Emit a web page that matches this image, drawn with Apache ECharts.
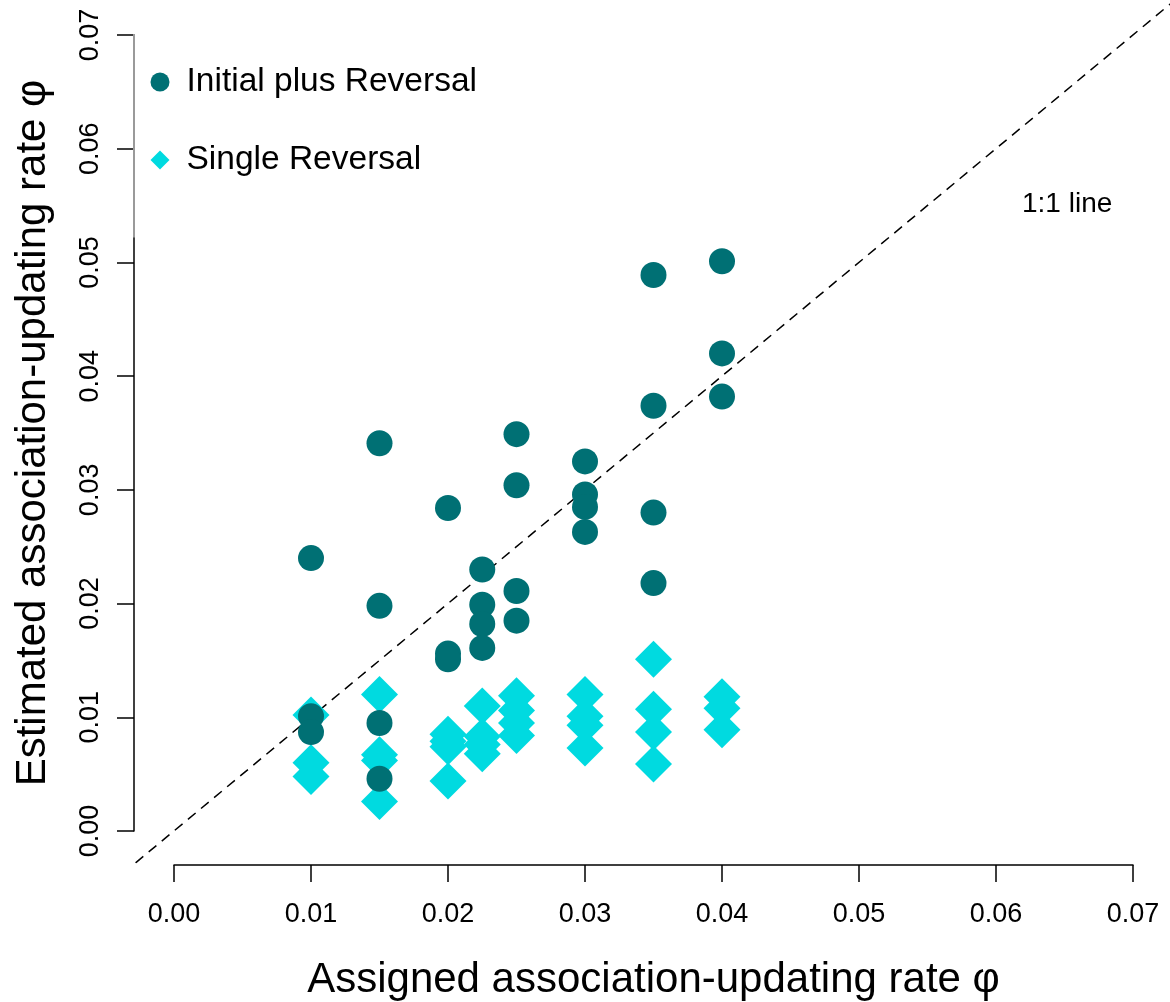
<!DOCTYPE html>
<html>
<head>
<meta charset="utf-8">
<script src="https://cdn.jsdelivr.net/npm/echarts@6/dist/echarts.min.js"></script>
<style>
  html, body { margin: 0; padding: 0; background: #fff; }
  #chart { width: 1170px; height: 1002px; }
</style>
</head>
<body>
<div id="chart"></div>
<script>
// Assigned association-updating rates (x groups)
const assignedRates = [0.01, 0.015, 0.02, 0.0225, 0.025, 0.03, 0.035, 0.04];

// Estimated rates per assigned rate, "Initial plus Reversal" design
const initialPlusReversal = [
  [0.0240, 0.0101, 0.0087],
  [0.0341, 0.0198, 0.0095, 0.0046],
  [0.0284, 0.0156, 0.0151],
  [0.0230, 0.0199, 0.0182, 0.0161],
  [0.0349, 0.0304, 0.0211, 0.0185],
  [0.0325, 0.0296, 0.0285, 0.0263],
  [0.0489, 0.0374, 0.0280, 0.0218],
  [0.0501, 0.0420, 0.0382]
];

// Estimated rates per assigned rate, "Single Reversal" design
const singleReversal = [
  [0.0102, 0.0060, 0.0048],
  [0.0120, 0.0067, 0.0062, 0.0026],
  [0.0085, 0.0079, 0.0074, 0.0044],
  [0.0110, 0.0083, 0.0076, 0.0068],
  [0.0119, 0.0106, 0.0095, 0.0084],
  [0.0120, 0.0101, 0.0093, 0.0073],
  [0.0151, 0.0107, 0.0087, 0.0059],
  [0.0118, 0.0108, 0.0089]
];

// Axis ticks
const tickValues = [0, 0.01, 0.02, 0.03, 0.04, 0.05, 0.06, 0.07];

// Plotting region: the tick range padded by 4% on each side
const pad = 0.04 * (tickValues[tickValues.length - 1] - tickValues[0]);
const regionMin = tickValues[0] - pad;
const regionMax = tickValues[tickValues.length - 1] + pad;

// 1:1 reference line across the whole plotting region
const identityLine = [[regionMin, regionMin], [regionMax, regionMax]];

const TEAL = '#007074';
const CYAN = '#00dae0';
const FONT = '"Liberation Sans", Arial, Helvetica, sans-serif';

function toPairs(groups) {
  const out = [];
  groups.forEach((vals, i) => vals.forEach(v => out.push([assignedRates[i], v])));
  return out;
}

const chart = echarts.init(document.getElementById('chart'), null, { renderer: 'canvas' });

const axisCommon = {
  type: 'value',
  gridIndex: 0,
  min: tickValues[0],
  max: tickValues[tickValues.length - 1],
  interval: 0.01,
  splitLine: { show: false },
  axisLine: { show: true, onZero: false, lineStyle: { color: '#000', width: 1.5 } },
  axisTick: { show: true, length: 17, lineStyle: { color: '#000', width: 1.5 } },
  nameLocation: 'middle',
  nameTextStyle: { fontFamily: FONT, fontSize: 42, color: '#000' }
};

// Hidden axes spanning the padded plotting region (for the 1:1 line)
const regionAxis = {
  type: 'value',
  gridIndex: 1,
  min: regionMin,
  max: regionMax,
  show: false,
  splitLine: { show: false }
};

chart.setOption({
  animation: false,
  backgroundColor: '#fff',
  grid: [
    { left: 174, right: 37, top: 35, bottom: 171, containLabel: false, outerBoundsMode: 'none' },
    { left: 135.6, right: -1.2, top: 3.2, bottom: 139.2, containLabel: false, outerBoundsMode: 'none' }
  ],
  xAxis: [
    Object.assign({}, axisCommon, {
      offset: 34,
      name: 'Assigned association-updating rate φ',
      nameGap: 94,
      axisLabel: {
        margin: 36, fontFamily: FONT, fontSize: 27, color: '#000',
        formatter: v => v.toFixed(2)
      }
    }),
    regionAxis
  ],
  yAxis: [
    Object.assign({}, axisCommon, {
      offset: 40,
      name: 'Estimated association-updating rate φ',
      nameGap: 80,
      axisLabel: {
        margin: 30, fontFamily: FONT, fontSize: 27, color: '#000', rotate: 90,
        formatter: v => v.toFixed(2)
      }
    }),
    regionAxis
  ],
  legend: {
    orient: 'vertical',
    left: 150.5,
    top: 64,
    padding: 0,
    itemGap: 42,
    itemWidth: 19,
    itemHeight: 19,
    textStyle: {
      fontFamily: FONT, fontSize: 33.5, color: '#000', lineHeight: 36,
      padding: [0, 0, 0, 12]
    },
    data: [
      { name: 'Initial plus Reversal', icon: 'circle' },
      { name: 'Single Reversal', icon: 'diamond' }
    ]
  },
  series: [
    {
      name: '1:1 line',
      type: 'line',
      xAxisIndex: 1,
      yAxisIndex: 1,
      data: identityLine,
      showSymbol: false,
      silent: true,
      lineStyle: { color: '#000', width: 1.5, type: [10, 7] },
      z: 1
    },
    {
      name: 'Single Reversal',
      type: 'scatter',
      symbol: 'diamond',
      symbolSize: [37, 37],
      itemStyle: { color: CYAN, opacity: 1 },
      data: toPairs(singleReversal),
      z: 2
    },
    {
      name: 'Initial plus Reversal',
      type: 'scatter',
      symbol: 'circle',
      symbolSize: 26,
      itemStyle: { color: TEAL, opacity: 1 },
      data: toPairs(initialPlusReversal),
      z: 3
    }
  ]
});

// Grey legend border over the top part of the y axis, and the line caption
const axisTopPx = chart.convertToPixel({ gridIndex: 0 }, [0, 0.07]);
const borderEndPx = chart.convertToPixel({ gridIndex: 0 }, [0, 0.0522]);
const yAxisLineX = axisTopPx[0] - 40;
chart.setOption({
  graphic: [
    {
      type: 'line',
      shape: { x1: yAxisLineX, y1: axisTopPx[1] - 1, x2: yAxisLineX, y2: borderEndPx[1] },
      style: { stroke: '#9a9a9a', lineWidth: 2 },
      z: 100
    },
    {
      type: 'text',
      left: 1022,
      top: 190,
      style: { text: '1:1 line', font: '28px ' + FONT, fill: '#000' },
      z: 100
    }
  ]
});
</script>
</body>
</html>
